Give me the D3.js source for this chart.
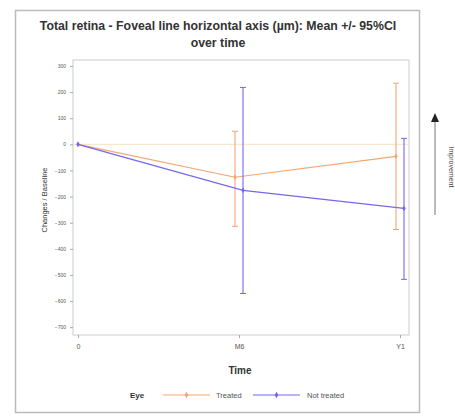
<html>
<head><meta charset="utf-8"></head>
<script src='https://d3js.org/d3.v7.min.js'></script>
<style>
body {margin:0; background:#fff;}
text {font-family: "Liberation Sans", Arial, sans-serif; fill:#333;}
</style>
<body onload='init()'>
<svg width=455 height=416></svg>
<script>
// data
var times = ["0", "M6", "Y1"];
var yTicks = [300, 200, 100, 0, -100, -200, -300, -400, -500, -600, -700];
var treatedMean  = [0, -126, -46];
var treatedLow   = [null, -314, -326];
var treatedHigh  = [null, 50, 234];
var notMean      = [0, -176, -245];
var notLow       = [null, -571, -517];
var notHigh      = [null, 218, 23];

function init() {
  var svg = d3.select("svg");
  var left = 73, right = 409, top = 60, bottom = 335;

  var x = d3.scalePoint(times, [78, 400]);
  var y = d3.scaleLinear([-730, 323], [bottom, top]);

  // outer frame
  svg.append("rect").attr("x", 15.5).attr("y", 10.5).attr("width", 404).attr("height", 402)
    .attr("fill", "none").attr("stroke", "#bbb").attr("stroke-width", 1.5);

  // title
  svg.append("text").attr("x", 218).attr("y", 30).attr("text-anchor", "middle")
    .style("font-size", "12.3px").style("font-weight", "bold")
    .text("Total retina - Foveal line horizontal axis (\u00b5m): Mean +/- 95%CI");
  svg.append("text").attr("x", 218).attr("y", 47).attr("text-anchor", "middle")
    .style("font-size", "12.3px").style("font-weight", "bold")
    .text("over time");

  // plot frame
  svg.append("rect").attr("x", left).attr("y", top).attr("width", right - left).attr("height", bottom - top)
    .attr("fill", "none").attr("stroke", "#ccc");

  // reference line at 0
  svg.append("line").attr("x1", left).attr("x2", right).attr("y1", y(0)).attr("y2", y(0))
    .attr("stroke", "#f6e4c4").attr("stroke-width", 1);

  // axes
  var yAxis = d3.axisLeft(y).tickValues(yTicks).tickSize(3).tickPadding(4);
  var gy = svg.append("g").attr("transform", "translate(" + left + ",0)").call(yAxis);
  gy.select(".domain").remove();
  gy.selectAll("line").attr("stroke", "#aaa");
  gy.selectAll("text").style("font-size", "5px").style("fill", "#555");

  var xAxis = d3.axisBottom(x).tickSize(3).tickPadding(6);
  var gx = svg.append("g").attr("transform", "translate(0," + bottom + ")").call(xAxis);
  gx.select(".domain").remove();
  gx.selectAll("line").attr("stroke", "#aaa");
  gx.selectAll("text").style("font-size", "7px").style("fill", "#555");

  svg.append("text").attr("x", 240).attr("y", 374).attr("text-anchor", "middle")
    .style("font-size", "10px").style("font-weight", "bold").text("Time");
  svg.append("text").attr("transform", "translate(47,200) rotate(-90)").attr("text-anchor", "middle")
    .style("font-size", "7.5px").text("Changes / Baseline");

  // series
  var series = [
    {name: "Treated", color: "#f2a674", mean: treatedMean, low: treatedLow, high: treatedHigh, dx: -4},
    {name: "Not treated", color: "#7468ee", mean: notMean, low: notLow, high: notHigh, dx: 4}
  ];

  series.forEach(function(s) {
    var px = function(i) { return x(times[i]) + (i ? s.dx : 0); };
    var path = d3.line().x(function(d, i) { return px(i); }).y(function(d) { return y(d); });
    svg.append("path").attr("d", path(s.mean)).attr("fill", "none")
      .attr("stroke", s.color).attr("stroke-width", 1.2);
    var g = svg.append("g");
    s.mean.forEach(function(m, i) {
      if (s.low[i] == null) return;
      var cx = px(i);
      g.append("line").attr("x1", cx).attr("x2", cx).attr("y1", y(s.low[i])).attr("y2", y(s.high[i]))
        .attr("stroke", s.color).attr("stroke-width", 1.1);
      [s.low[i], s.high[i]].forEach(function(v) {
        g.append("line").attr("x1", cx - 3).attr("x2", cx + 3).attr("y1", y(v)).attr("y2", y(v))
          .attr("stroke", s.color).attr("stroke-width", 1);
      });
    });
    s.mean.forEach(function(m, i) {
      var cx = px(i);
      svg.append("path").attr("d", d3.symbol(d3.symbolDiamond, 10)())
        .attr("transform", "translate(" + cx + "," + y(m) + ")")
        .attr("fill", s.color);
    });
  });

  // right arrow annotation
  svg.append("line").attr("x1", 435).attr("x2", 435).attr("y1", 121).attr("y2", 215)
    .attr("stroke", "#777").attr("stroke-width", 1);
  svg.append("path").attr("d", "M431,122 L435,113 L439,122 Z").attr("fill", "#222");
  svg.append("text").attr("transform", "translate(449,167) rotate(90)").attr("text-anchor", "middle")
    .style("font-size", "7px").style("fill", "#444").text("Improvement");

  // legend
  var ly = 395;
  svg.append("text").attr("x", 137).attr("y", ly + 3).attr("text-anchor", "middle")
    .style("font-size", "8px").style("font-weight", "bold").text("Eye");
  var lx = [163, 253];
  var tx = [216, 307];
  series.forEach(function(s, k) {
    svg.append("line").attr("x1", lx[k]).attr("x2", lx[k] + 47).attr("y1", ly).attr("y2", ly)
      .attr("stroke", s.color).attr("stroke-width", 1.2);
    svg.append("path").attr("d", d3.symbol(d3.symbolDiamond, 12)())
      .attr("transform", "translate(" + (lx[k] + 23.5) + "," + ly + ")").attr("fill", s.color);
    svg.append("text").attr("x", tx[k]).attr("y", ly + 2.5)
      .style("font-size", "7.5px").style("fill", "#555").text(s.name);
  });
}
</script>
</body>
</html>
